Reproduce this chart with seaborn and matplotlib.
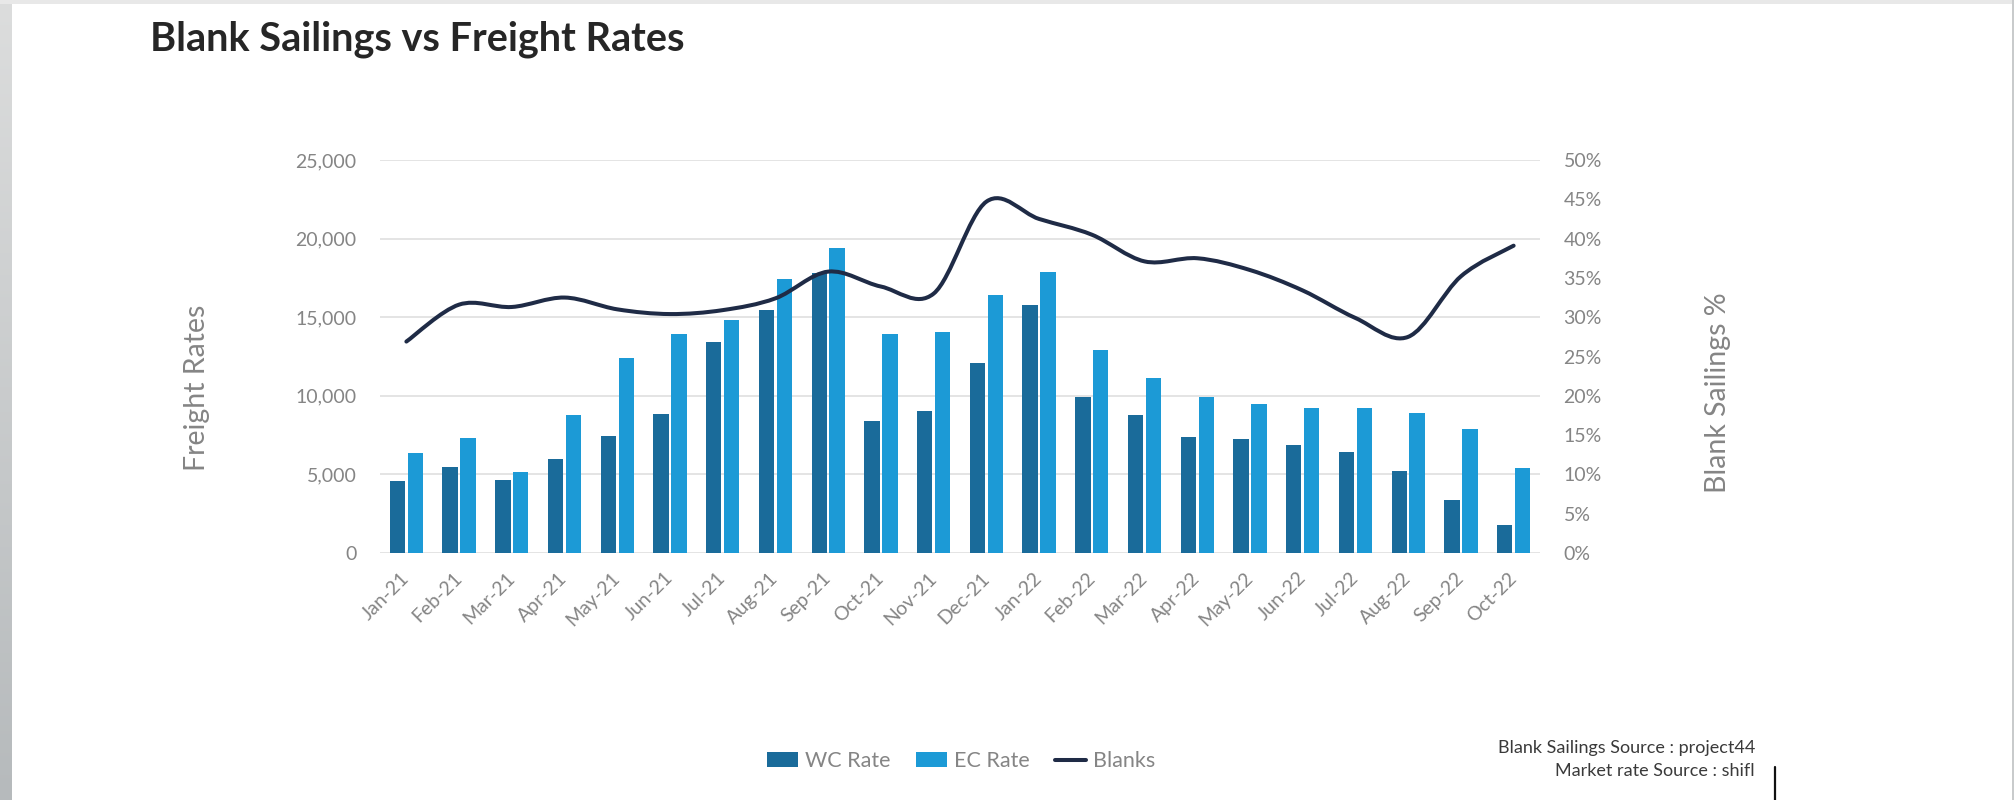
import numpy as np
import pandas as pd
import matplotlib
matplotlib.use("Agg")
import matplotlib.pyplot as plt
import seaborn as sns
from matplotlib.path import Path
from matplotlib.patches import PathPatch, Patch
from matplotlib.lines import Line2D

# ---- data -------------------------------------------------------------
months = ["Jan-21", "Feb-21", "Mar-21", "Apr-21", "May-21", "Jun-21",
          "Jul-21", "Aug-21", "Sep-21", "Oct-21", "Nov-21", "Dec-21",
          "Jan-22", "Feb-22", "Mar-22", "Apr-22", "May-22", "Jun-22",
          "Jul-22", "Aug-22", "Sep-22", "Oct-22"]

wc_rate = [4550, 5450, 4650, 5950, 7450, 8850, 13400, 15450, 17800, 8400,
           9050, 12100, 15800, 9900, 8750, 7350, 7250, 6900, 6450, 5200,
           3400, 1750]

ec_rate = [6350, 7300, 5150, 8750, 12400, 13900, 14850, 17400, 19400, 13900,
           14050, 16400, 17850, 12900, 11150, 9950, 9450, 9250, 9250, 8900,
           7900, 5400]

blanks_pct = [26.9, 31.6, 31.3, 32.5, 31.0, 30.4, 30.9, 32.4, 35.8, 33.9,
              33.0, 44.7, 42.5, 40.5, 37.1, 37.5, 36.0, 33.4, 29.9, 27.5,
              35.2, 39.1]

series_names = ["WC Rate", "EC Rate"]
line_name = "Blanks"
rate_ticks = [0, 5000, 10000, 15000, 20000, 25000]
pct_ticks = [0, 5, 10, 15, 20, 25, 30, 35, 40, 45, 50]

# ---- style ------------------------------------------------------------
WC_COLOR = "#1a6b9a"
EC_COLOR = "#1c9ad6"
LINE_COLOR = "#1f2b46"
LABEL_GRAY = "#858585"
GRID_GRAY = "#e2e2e2"

sns.set_theme(style="white")
plt.rcParams["font.family"] = ["Lato", "DejaVu Sans"]

W, H = 2015, 800
fig = plt.figure(figsize=(W / 100, H / 100), dpi=100)
fig.patch.set_facecolor("white")


def fx(px):
    return px / W


def fy(py):
    return 1 - py / H


# window-frame strips around the slide
strip = fig.add_axes([0, 0, fx(12), 1])
grad = np.linspace(0, 1, 256).reshape(-1, 1)
strip.imshow(grad, aspect="auto", cmap=matplotlib.colors.LinearSegmentedColormap.from_list(
    "frame", ["#dcdddd", "#b6babc"]), extent=[0, 1, 0, 1], origin="upper")
strip.set_axis_off()
top = fig.add_axes([0, fy(4), 1, 4 / H])
top.set_facecolor("#e8e8e8")
top.set_xticks([]); top.set_yticks([])
for s in top.spines.values():
    s.set_visible(False)
right = fig.add_axes([fx(2012), 0, 3 / W, 1])
right.set_facecolor("#c9cbcc")
right.set_xticks([]); right.set_yticks([])
for s in right.spines.values():
    s.set_visible(False)

# ---- main axes ----------------------------------------------------------
ax = fig.add_axes([fx(380), fy(553), 1160 / W, 393 / H])

df = pd.DataFrame({
    "month": months * 2,
    "series": [series_names[0]] * len(months) + [series_names[1]] * len(months),
    "rate": wc_rate + ec_rate,
})

sns.barplot(data=df, x="month", y="rate", hue="series", order=months,
            hue_order=series_names, palette=[WC_COLOR, EC_COLOR],
            width=0.68, gap=0.14, saturation=1, linewidth=0,
            legend=False, ax=ax)

ax.set_xlim(-0.5, len(months) - 0.5)
ax.set_ylim(0, 25000)
ax.set_yticks(rate_ticks)
ax.set_yticklabels([f"{v:,}" for v in rate_ticks])
ax.yaxis.grid(True, color=GRID_GRAY, linewidth=1.3)
ax.xaxis.grid(False)
ax.set_axisbelow(True)
ax.set_xlabel("")
ax.set_ylabel("")
for s in ax.spines.values():
    s.set_visible(False)
ax.tick_params(axis="y", length=0, pad=17, labelsize=14, labelcolor=LABEL_GRAY)
ax.tick_params(axis="x", length=0, pad=16, labelsize=14, labelcolor=LABEL_GRAY)
for lab in ax.get_xticklabels():
    lab.set_rotation(45)
    lab.set_ha("right")
    lab.set_va("center")
    lab.set_rotation_mode("anchor")

# ---- secondary axis: smoothed blank-sailings line -----------------------
ax2 = ax.twinx()
ax2.set_ylim(0, 50)
ax2.set_yticks(pct_ticks)
ax2.set_yticklabels([f"{v}%" for v in pct_ticks])
ax2.tick_params(axis="y", length=0, pad=17, labelsize=14, labelcolor=LABEL_GRAY)
for s in ax2.spines.values():
    s.set_visible(False)
ax2.grid(False)

pts = np.column_stack([np.arange(len(blanks_pct)), blanks_pct]).astype(float)
ext = np.vstack([pts[0], pts, pts[-1]])
verts = [tuple(pts[0])]
codes = [Path.MOVETO]
for i in range(len(pts) - 1):
    p0, p1, p2, p3 = ext[i], ext[i + 1], ext[i + 2], ext[i + 3]
    c1 = p1 + (p2 - p0) / 6.0
    c2 = p2 - (p3 - p1) / 6.0
    verts += [tuple(c1), tuple(c2), tuple(p2)]
    codes += [Path.CURVE4] * 3
ax2.add_patch(PathPatch(Path(verts, codes), facecolor="none",
                        edgecolor=LINE_COLOR, linewidth=2.9,
                        capstyle="round", joinstyle="round", zorder=5))

# ---- text ---------------------------------------------------------------
fig.text(fx(150), fy(50), "Blank Sailings vs Freight Rates", fontsize=28.5,
         fontweight="bold", color="#262626", ha="left", va="baseline")
fig.text(fx(197), fy(388), "Freight Rates", rotation=90, fontsize=20.5,
         color=LABEL_GRAY, ha="center", va="center")
fig.text(fx(1718), fy(393), "Blank Sailings %", rotation=90, fontsize=20.5,
         color=LABEL_GRAY, ha="center", va="center")

handles = [Patch(facecolor=WC_COLOR, edgecolor="none"),
           Patch(facecolor=EC_COLOR, edgecolor="none"),
           Line2D([0], [0], color=LINE_COLOR, linewidth=2.9)]
fig.legend(handles, series_names + [line_name], loc="center",
           bbox_to_anchor=(fx(961), fy(761)), ncol=3, frameon=False,
           fontsize=15.5, labelcolor=LABEL_GRAY, handlelength=1.45,
           handleheight=0.65, handletextpad=0.3, columnspacing=1.2)

fig.text(fx(1755), fy(748), "Blank Sailings Source : project44", fontsize=13,
         color="#3a3a3a", ha="right", va="center")
fig.text(fx(1755), fy(771), "Market rate Source : shifl", fontsize=13,
         color="#3a3a3a", ha="right", va="center")
fig.add_artist(Line2D([fx(1775), fx(1775)], [fy(767), fy(800)],
                      color="#111111", linewidth=1.6))

fig.savefig("out.png", dpi=100, facecolor="white")
